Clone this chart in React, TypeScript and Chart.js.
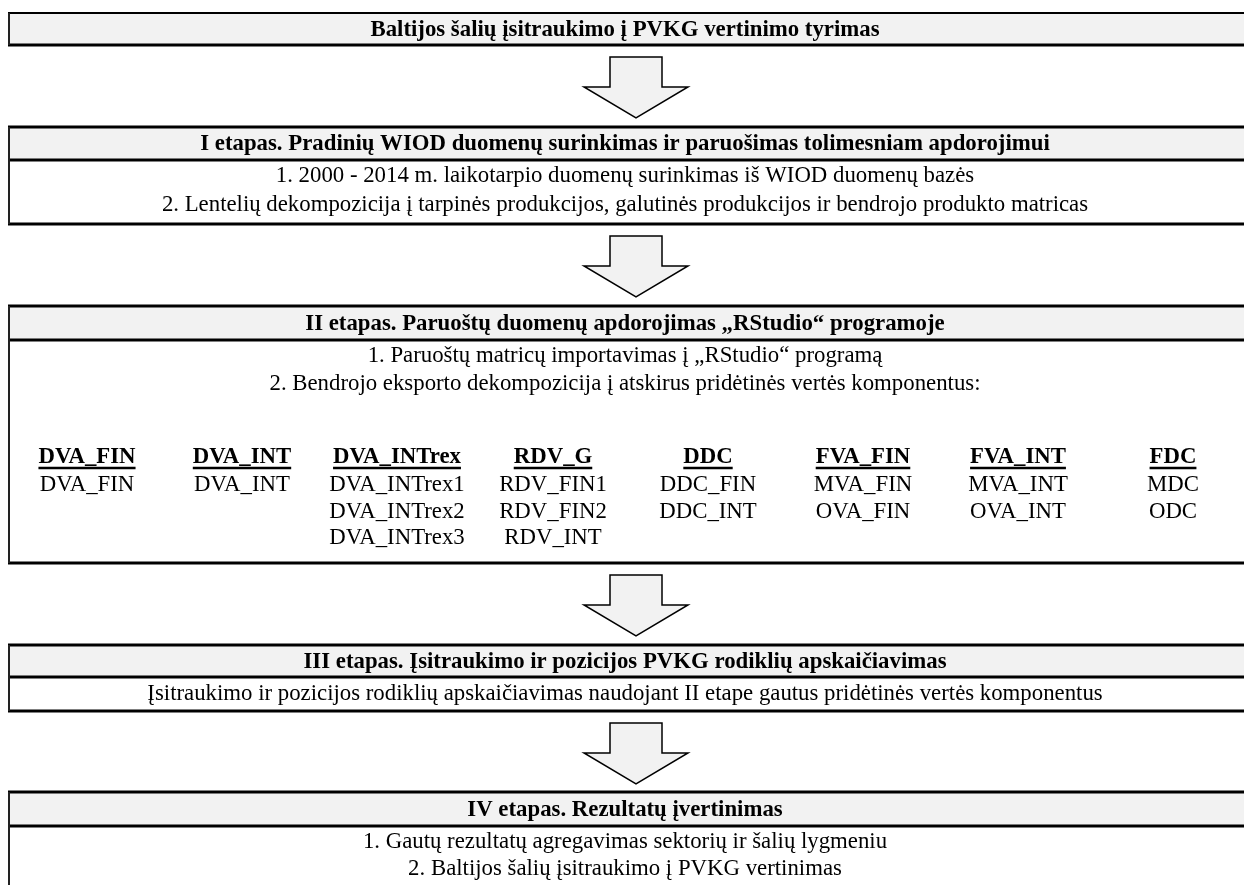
import React, { useEffect, useRef } from "react";
import { Chart, registerables } from "chart.js";

Chart.register(...registerables);

// ---------- content ----------
const TITLE = "Baltijos šalių įsitraukimo į PVKG vertinimo tyrimas";
const STAGE_TITLES = [
  "I etapas. Pradinių WIOD duomenų surinkimas ir paruošimas tolimesniam apdorojimui",
  "II etapas. Paruoštų duomenų apdorojimas „RStudio“ programoje",
  "III etapas. Įsitraukimo ir pozicijos PVKG rodiklių apskaičiavimas",
  "IV etapas. Rezultatų įvertinimas",
];
const STAGE_I_LINES = [
  "1. 2000 - 2014 m. laikotarpio duomenų surinkimas iš WIOD duomenų bazės",
  "2. Lentelių dekompozicija į tarpinės produkcijos, galutinės produkcijos ir bendrojo produkto matricas",
];
const STAGE_II_LINES = [
  "1. Paruoštų matricų importavimas į „RStudio“ programą",
  "2. Bendrojo eksporto dekompozicija į atskirus pridėtinės vertės komponentus:",
];
const STAGE_III_LINES = [
  "Įsitraukimo ir pozicijos rodiklių apskaičiavimas naudojant II etape gautus pridėtinės vertės komponentus",
];
const STAGE_IV_LINES = [
  "1. Gautų rezultatų agregavimas sektorių ir šalių lygmeniu",
  "2. Baltijos šalių įsitraukimo į PVKG vertinimas",
];
const COMPONENT_HEADERS = ["DVA_FIN", "DVA_INT", "DVA_INTrex", "RDV_G", "DDC", "FVA_FIN", "FVA_INT", "FDC"];
const COMPONENT_ITEMS = [
  ["DVA_FIN"],
  ["DVA_INT"],
  ["DVA_INTrex1", "DVA_INTrex2", "DVA_INTrex3"],
  ["RDV_FIN1", "RDV_FIN2", "RDV_INT"],
  ["DDC_FIN", "DDC_INT"],
  ["MVA_FIN", "OVA_FIN"],
  ["MVA_INT", "OVA_INT"],
  ["MDC", "ODC"],
];

// ---------- layout (in scale units = page pixels) ----------
const W = 1244;
const H = 885;
const BOX_LEFT = 9;
const BOX_RIGHT = 1260;
const TEXT_CX = 625;
const ARROW_CX = 636;
const COL_CX = [87, 242, 397, 553, 708, 863, 1018, 1173];
const FONT = '"Liberation Serif", "Times New Roman", serif';
const FS = 22.8;

const TITLE_BOX = [13, 45];
const ARROWS = [57, 236, 575, 723];
const ARROW_H = 61;
// [top, headerBottom, bottom]
const BOXES = [
  [127, 160, 224],
  [306, 340, 563],
  [645, 677, 711],
  [792, 826, 900],
];
const I_LINE_Y = [176, 205];
const II_LINE_Y = [356, 384];
const COMP_HEAD_Y = 457;
const COMP_ROW_Y = [485, 512, 538];
const III_LINE_Y = [694];
const IV_LINE_Y = [842, 869];

const HEADER_FILL = "#f2f2f2";

const flowPlugin = {
  id: "flow",
  afterDraw(chart: any) {
    const ctx: CanvasRenderingContext2D = chart.ctx;
    const xs = chart.scales.x;
    const ys = chart.scales.y;
    const X = (v: number) => xs.getPixelForValue(v);
    const Y = (v: number) => ys.getPixelForValue(v);

    ctx.save();
    ctx.fillStyle = "#ffffff";
    ctx.fillRect(0, 0, chart.width, chart.height);

    const hline = (y: number, lw: number) => {
      ctx.beginPath();
      ctx.lineWidth = lw;
      ctx.strokeStyle = "#000";
      ctx.moveTo(X(BOX_LEFT) - 1, Y(y));
      ctx.lineTo(X(BOX_RIGHT), Y(y));
      ctx.stroke();
    };
    const vline = (y0: number, y1: number) => {
      ctx.beginPath();
      ctx.lineWidth = 2;
      ctx.strokeStyle = "#222";
      ctx.moveTo(X(BOX_LEFT), Y(y0));
      ctx.lineTo(X(BOX_LEFT), Y(y1));
      ctx.stroke();
    };
    const text = (s: string, x: number, y: number, bold: boolean, underline = false) => {
      ctx.font = `${bold ? "bold " : ""}${FS}px ${FONT}`;
      ctx.fillStyle = "#000";
      ctx.textAlign = "center";
      ctx.textBaseline = "middle";
      ctx.fillText(s, X(x), Y(y));
      if (underline) {
        const w = ctx.measureText(s).width;
        ctx.beginPath();
        ctx.lineWidth = 2.5;
        ctx.strokeStyle = "#000";
        ctx.moveTo(X(x) - w / 2, Y(y) + 11);
        ctx.lineTo(X(x) + w / 2, Y(y) + 11);
        ctx.stroke();
      }
    };

    // title box
    ctx.fillStyle = HEADER_FILL;
    ctx.fillRect(X(BOX_LEFT), Y(TITLE_BOX[0]), X(BOX_RIGHT) - X(BOX_LEFT), Y(TITLE_BOX[1]) - Y(TITLE_BOX[0]));
    hline(TITLE_BOX[0], 2);
    hline(TITLE_BOX[1], 3);
    vline(TITLE_BOX[0], TITLE_BOX[1]);
    text(TITLE, TEXT_CX, (TITLE_BOX[0] + TITLE_BOX[1]) / 2 + 1, true);

    // stage boxes
    BOXES.forEach((b, i) => {
      ctx.fillStyle = HEADER_FILL;
      ctx.fillRect(X(BOX_LEFT), Y(b[0]), X(BOX_RIGHT) - X(BOX_LEFT), Y(b[1]) - Y(b[0]));
      hline(b[0], 3);
      hline(b[1], 3);
      hline(b[2], 3);
      vline(b[0], Math.min(b[2], H + 5));
      text(STAGE_TITLES[i], TEXT_CX, (b[0] + b[1]) / 2 + 1, true);
    });

    STAGE_I_LINES.forEach((s, i) => text(s, TEXT_CX, I_LINE_Y[i], false));
    STAGE_II_LINES.forEach((s, i) => text(s, TEXT_CX, II_LINE_Y[i], false));
    STAGE_III_LINES.forEach((s, i) => text(s, TEXT_CX, III_LINE_Y[i], false));
    STAGE_IV_LINES.forEach((s, i) => text(s, TEXT_CX, IV_LINE_Y[i], false));

    COMPONENT_HEADERS.forEach((h, c) => {
      text(h, COL_CX[c], COMP_HEAD_Y, true, true);
      COMPONENT_ITEMS[c].forEach((it, r) => text(it, COL_CX[c], COMP_ROW_Y[r], false));
    });

    // arrows
    ARROWS.forEach((top) => {
      const cx = ARROW_CX;
      const shaftHalf = 26;
      const headHalf = 52;
      const headTop = top + 30;
      const tip = top + ARROW_H;
      ctx.beginPath();
      ctx.moveTo(X(cx - shaftHalf), Y(top));
      ctx.lineTo(X(cx + shaftHalf), Y(top));
      ctx.lineTo(X(cx + shaftHalf), Y(headTop));
      ctx.lineTo(X(cx + headHalf), Y(headTop));
      ctx.lineTo(X(cx), Y(tip));
      ctx.lineTo(X(cx - headHalf), Y(headTop));
      ctx.lineTo(X(cx - shaftHalf), Y(headTop));
      ctx.closePath();
      ctx.fillStyle = HEADER_FILL;
      ctx.fill();
      ctx.lineWidth = 1.5;
      ctx.strokeStyle = "#000";
      ctx.lineJoin = "miter";
      ctx.stroke();
    });

    ctx.restore();
  },
};

export default function App() {
  const ref = useRef<HTMLCanvasElement | null>(null);
  useEffect(() => {
    if (!ref.current) return;
    const chart = new Chart(ref.current, {
      type: "scatter",
      data: { datasets: [{ data: [], pointRadius: 0 }] },
      options: {
        animation: false,
        responsive: false,
        maintainAspectRatio: false,
        layout: { padding: 0 },
        plugins: { legend: { display: false }, tooltip: { enabled: false } },
        scales: {
          x: { type: "linear", min: 0, max: W, display: false },
          y: { type: "linear", min: 0, max: H, reverse: true, display: false },
        },
      },
      plugins: [flowPlugin],
    });
    return () => chart.destroy();
  }, []);
  return (
    <div style={{ position: "absolute", left: 0, top: 0, width: W, height: H, background: "#fff" }}>
      <canvas ref={ref} width={W} height={H} style={{ width: W, height: H, display: "block" }} />
    </div>
  );
}
